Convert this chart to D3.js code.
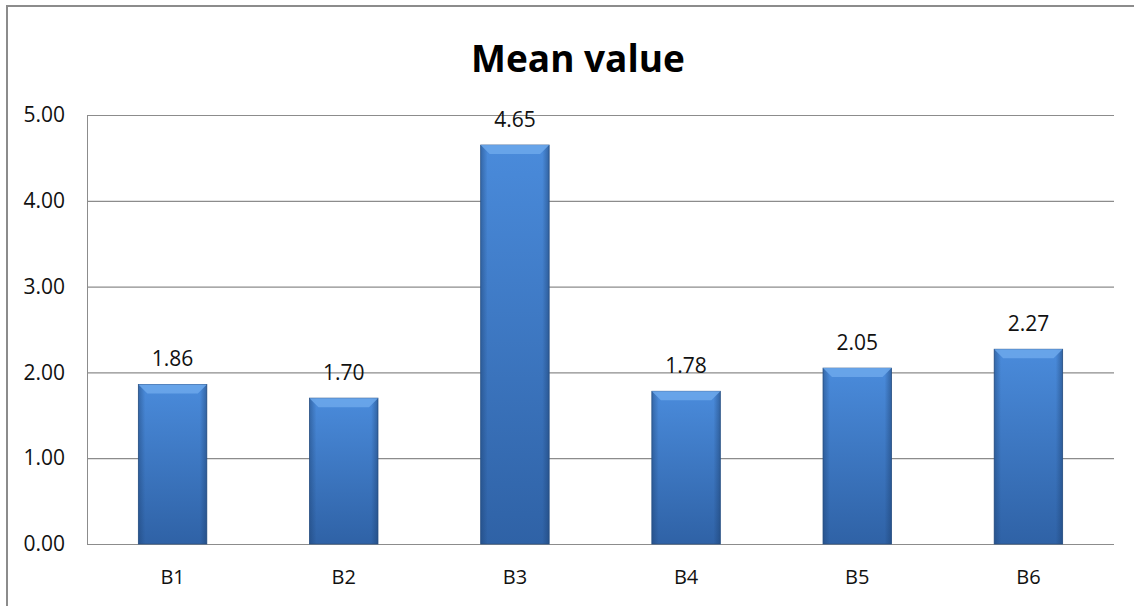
<!DOCTYPE html>
<html><head><meta charset="utf-8">
<script src="https://cdn.jsdelivr.net/npm/d3@7"></script>
<style>body{margin:0;background:#fff}svg{display:block}</style>
</head><body>
<svg id="c" width="1134" height="606"></svg>
<script>
const categories = ["B1","B2","B3","B4","B5","B6"];
const values = [1.86, 1.70, 4.65, 1.78, 2.05, 2.27];
const yTicks = [0,1,2,3,4,5];
const title = "Mean value";

const svg = d3.select("#c");
const W = 1134, H = 606;
const m = {left: 87, right: 1114, top: 115, bottom: 544};

// outer frame
svg.append("rect").attr("x",7).attr("y",6).attr("width",W+10).attr("height",H+10)
  .attr("fill","none").attr("stroke","#8c8c8c").attr("stroke-width",2);

const x = d3.scaleBand().domain(categories).range([m.left, m.right]).paddingInner(0.6).paddingOuter(0.3);
const y = d3.scaleLinear().domain([0,5]).range([m.bottom, m.top]);

const defs = svg.append("defs");
const gv = defs.append("linearGradient").attr("id","gv").attr("x1",0).attr("y1",0).attr("x2",0).attr("y2",1);
gv.append("stop").attr("offset","0%").attr("stop-color","#4a8bdb");
gv.append("stop").attr("offset","100%").attr("stop-color","#2f62a6");
const gh = defs.append("linearGradient").attr("id","gh").attr("x1",0).attr("y1",0).attr("x2",1).attr("y2",0);
gh.append("stop").attr("offset","0%").attr("stop-color","#1c3f6e").attr("stop-opacity",0.45);
gh.append("stop").attr("offset","10%").attr("stop-color","#1c3f6e").attr("stop-opacity",0.0);
gh.append("stop").attr("offset","90%").attr("stop-color","#1c3f6e").attr("stop-opacity",0.0);
gh.append("stop").attr("offset","100%").attr("stop-color","#1c3f6e").attr("stop-opacity",0.5);

svg.append("line").attr("x1",m.left+0.5).attr("x2",m.left+0.5).attr("y1",m.top).attr("y2",m.bottom)
  .attr("stroke","#8c8c8c").attr("stroke-width",1);

const fontFam = "'Open Sans', sans-serif";
const yAxis = d3.axisLeft(y).tickValues(yTicks).tickSize(-(m.right-m.left)).tickFormat(d3.format(".2f")).tickPadding(22);
const ga = svg.append("g").attr("transform",`translate(${m.left},0)`).call(yAxis);
ga.select(".domain").remove();
ga.selectAll(".tick line").attr("stroke","#8c8c8c").attr("stroke-width",1.2);
ga.selectAll(".tick text").attr("font-family",fontFam).attr("font-size",21).attr("fill","#111");

const xAxis = d3.axisBottom(x).tickSize(0).tickPadding(26);
const gx = svg.append("g").attr("transform",`translate(0,${m.bottom})`).call(xAxis);
gx.select(".domain").remove();
gx.selectAll(".tick text").attr("font-family",fontFam).attr("font-size",20).attr("fill","#111");

const bars = svg.append("g").selectAll("g").data(values).join("g");
bars.append("rect")
  .attr("x",(d,i)=>x(categories[i])).attr("y",d=>y(d))
  .attr("width",x.bandwidth()).attr("height",d=>y(0)-y(d))
  .attr("fill","url(#gv)").attr("stroke","#2d5588").attr("stroke-width",0.8);
bars.append("rect")
  .attr("x",(d,i)=>x(categories[i])).attr("y",d=>y(d))
  .attr("width",x.bandwidth()).attr("height",d=>y(0)-y(d))
  .attr("fill","url(#gh)");
bars.append("path")
  .attr("d",(d,i)=>{const x0=x(categories[i]), x1=x0+x.bandwidth(), t=y(d), b=9;
    return `M${x0},${t}L${x1},${t}L${x1-b},${t+b}L${x0+b},${t+b}Z`;})
  .attr("fill","#6aa6ea").attr("opacity",0.9);
bars.append("text")
  .attr("x",(d,i)=>x(categories[i])+x.bandwidth()/2).attr("y",d=>y(d)-18)
  .attr("text-anchor","middle").attr("font-family",fontFam).attr("font-size",21).attr("fill","#111")
  .text(d=>d3.format(".2f")(d));

svg.append("text").attr("x",578).attr("y",72).attr("text-anchor","middle")
  .attr("font-family",fontFam).attr("font-weight","bold").attr("font-size",37).attr("fill","#000")
  .text(title);
</script>
</body></html>
